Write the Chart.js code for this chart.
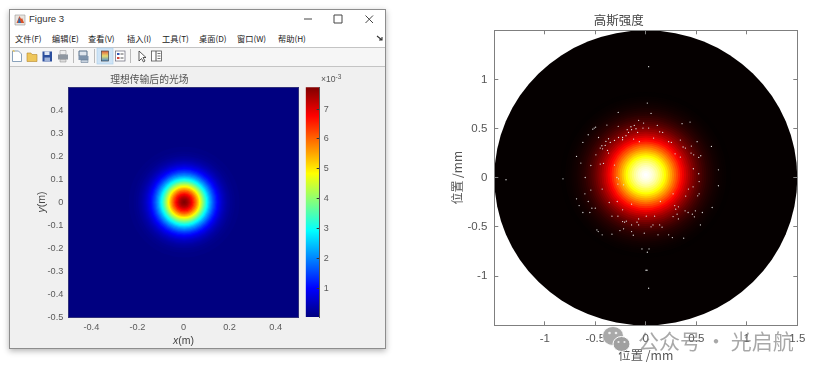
<!DOCTYPE html>
<html>
<head>
<meta charset="utf-8">
<title>Figure 3</title>
<script src="https://cdn.jsdelivr.net/npm/chart.js@4/dist/chart.umd.js"></script>
<style>
html, body { margin: 0; padding: 0; background: #fff; }
#page { position: relative; width: 822px; height: 375px; overflow: hidden; filter: blur(0.6px);
  font-family: "Liberation Sans", "Noto Sans CJK SC", sans-serif; }
canvas { position: absolute; top: 0; }
#win { position: absolute; left: 9px; top: 9px; width: 375px; height: 338px; background: #f0f0f0;
  border: 1px solid #8d8d8d; box-shadow: 0 2px 6px rgba(0,0,0,.3); }
#head { position: absolute; left: 0; top: 0; width: 100%; height: 37px; background: #fff; }
#tools { position: absolute; left: 0; top: 37px; width: 100%; height: 18px; background: #f6f6f6;
  border-top: 1px solid #c4c4c4; border-bottom: 1px solid #c4c4c4; }
.t { position: absolute; white-space: nowrap; color: #333; }
.menu { top: 32px; font: 8.2px "Noto Sans CJK SC", sans-serif; color: #222; }
#icons { position: absolute; left: 0; top: 0; }
#watermark { position: absolute; left: 638px; top: 325px; font: 21px "Noto Sans CJK SC", sans-serif;
  color: rgba(115,115,115,.62); word-spacing: -0.3px; white-space: pre; }
</style>
</head>
<body>
<div id="page">
  <div id="win"><div id="head"></div><div id="tools"></div></div>
  <span class="t" style="left:29px;top:13px;font-size:9.6px">Figure 3</span>
  <span class="t menu" style="left:15px">文件(F)</span>
  <span class="t menu" style="left:52px">编辑(E)</span>
  <span class="t menu" style="left:88px">查看(V)</span>
  <span class="t menu" style="left:127px">插入(I)</span>
  <span class="t menu" style="left:162px">工具(T)</span>
  <span class="t menu" style="left:199px">桌面(D)</span>
  <span class="t menu" style="left:237px">窗口(W)</span>
  <span class="t menu" style="left:278px">帮助(H)</span>
  <svg id="icons" width="400" height="70">
    <path d="M15 15h10v10h-10z" fill="#e9e4de" stroke="#999" stroke-width=".6"/>
    <path d="M16.5 23l3-7 1.6 3 1 -1 2 5z" fill="#d8522a"/><path d="M19 17l2 6h-3z" fill="#2a6fb5"/>
    <path d="M304 19h8M334 15h8v8h-8zM365.500 15.500l7.500 7.500M373 15.500l-7.500 7.500" fill="none" stroke="#444" stroke-width="1"/>
    <path d="M377 36l5 4M382 37v3h-3" fill="none" stroke="#333" stroke-width="1.100"/>
    <path d="M12.500 51h6l3 3v7.500h-9z" fill="#fff" stroke="#6d8cab" stroke-width=".8"/><path d="M12 51l2 -1 1 2z" fill="#f0c040"/>
    <path d="M27 53h4l1 1.500h5v7h-10z" fill="#eec65a" stroke="#b5862c" stroke-width=".6"/>
    <path d="M42.500 51.500h9.500v10h-9.500z" fill="#2c4f9e"/><path d="M44.500 51.500h5v3.500h-5z" fill="#dfe6f3"/><path d="M44.500 57.500h5.500v4h-5.500z" fill="#9fb2d8"/>
    <path d="M60 50.500h6v4h-6z" fill="#eee" stroke="#888" stroke-width=".5"/><path d="M58 54.500h10v5h-10z" fill="#8f97a0"/><path d="M60 59.500h6v2.500h-6z" fill="#ddd" stroke="#888" stroke-width=".5"/>
    <path d="M73.500 49v14M94.500 49v14M130.500 49v14" stroke="#bbb"/>
    <path d="M79 51h8v5h-8z" fill="#dfe6ee" stroke="#58708a"/><path d="M78.500 56h10v4h-10z" fill="#7d93ac"/><path d="M81 60h7v2.500h-7z" fill="#c9d3df" stroke="#58708a" stroke-width=".5"/>
    <rect x="97" y="48" width="16" height="16" fill="#cfe4f6" stroke="#a9cde9" stroke-width=".6"/>
    <defs><linearGradient id="cb" x1="0" y1="0" x2="0" y2="1"><stop offset="0" stop-color="#e2603e"/><stop offset=".5" stop-color="#e6dc70"/><stop offset="1" stop-color="#4a8ed0"/></linearGradient></defs>
    <rect x="101.500" y="51" width="7" height="10" fill="url(#cb)" stroke="#444" stroke-width=".7"/>
    <rect x="115.500" y="51" width="9.500" height="10" fill="#fff" stroke="#667" stroke-width=".7"/>
    <path d="M117 53h2.500v2h-2.500z" fill="#3357b5"/><path d="M117 57h2.500v2h-2.500z" fill="#d0453b"/><path d="M120.500 54h3M120.500 58h3" stroke="#555"/>
    <path d="M139 51v10l2.500 -2.500 2 3.500 1.500 -1 -2 -3.500h3z" fill="#fff" stroke="#333" stroke-width=".8"/>
    <rect x="151.500" y="51" width="10" height="10" fill="#fff" stroke="#555" stroke-width=".8"/><path d="M156 51v10" stroke="#555"/><path d="M157.500 53.500h3M157.500 56h3M157.500 58.500h3" stroke="#777"/>
  </svg>
  <span class="t" style="left:321px;top:74px;font-size:8.6px;color:#555">×10<sup style="font-size:6.5px;line-height:0;vertical-align:3px">-3</sup></span>
  <span class="t" style="left:183.500px;top:334px;transform:translateX(-50%);font-size:10.500px;color:#444"><i>x</i>(m)</span>
  <span class="t" style="left:41px;top:202px;transform:translate(-50%,-50%) rotate(-90deg);font-size:10.500px;color:#444"><i>y</i>(m)</span>

  <canvas id="fieldChart" width="400" height="375" style="left:0;width:400px;height:375px"></canvas>
  <canvas id="colorbarChart" width="100" height="375" style="left:300px;width:100px;height:375px"></canvas>
  <canvas id="hotChart" width="382" height="375" style="left:440px;width:382px;height:375px"></canvas>

  <svg style="position:absolute;left:600px;top:324px" width="36" height="32">
    <ellipse cx="13" cy="12" rx="10.500" ry="9.500" fill="#a9a9a9" stroke="#fff" stroke-width=".8"/>
    <ellipse cx="21.500" cy="20" rx="8.500" ry="7.500" fill="#a0a0a0" stroke="#fff" stroke-width="1"/>
    <circle cx="9.500" cy="9" r="1.300" fill="#eee"/><circle cx="16" cy="9" r="1.300" fill="#eee"/>
    <circle cx="18.500" cy="18" r="1.100" fill="#eee"/><circle cx="24.500" cy="18" r="1.100" fill="#eee"/>
  </svg>
  <div id="watermark">公众号 · 光启航</div>
</div>

<script>
// left panel: radial profile of the field (x1e-3)
const fieldCenter = [0.003, 0];
const fieldRadius = [0.72, 0.24, 0.22, 0.21, 0.2, 0.195, 0.19, 0.185, 0.18, 0.175, 0.17, 0.165, 0.16, 0.155, 0.15, 0.145, 0.14, 0.135, 0.13, 0.125, 0.12, 0.115, 0.11, 0.105, 0.1, 0.095, 0.09, 0.085, 0.08, 0.075, 0.07, 0.065, 0.06, 0.055, 0.05, 0.045, 0.04, 0.035, 0.03, 0.025, 0.02, 0.015, 0.01, 0.005];
const fieldValue = [0, 0.04, 0.08, 0.12, 0.18, 0.21, 0.25, 0.3, 0.36, 0.43, 0.5, 0.59, 0.69, 0.8, 0.92, 1.06, 1.21, 1.38, 1.56, 1.76, 1.98, 2.21, 2.45, 2.72, 2.99, 3.28, 3.58, 3.89, 4.21, 4.53, 4.85, 5.17, 5.48, 5.79, 6.08, 6.36, 6.62, 6.86, 7.07, 7.26, 7.41, 7.54, 7.63, 7.7];
const fieldXTicks = [-0.4, -0.2, 0, 0.2, 0.4];
const fieldYTicks = [-0.5, -0.4, -0.3, -0.2, -0.1, 0, 0.1, 0.2, 0.3, 0.4];
const colorbarTicks = [1, 2, 3, 4, 5, 6, 7];
const colorbarRange = [0.04, 7.73];

// right panel: radial profile of the beam and the white specks
const beamCenter = [0, 0.03];
const discRadius = [1.5];
const beamRadius = [0.84, 0.8, 0.78, 0.76, 0.74, 0.72, 0.7, 0.68, 0.66, 0.64, 0.62, 0.6, 0.58, 0.56, 0.54, 0.52, 0.5, 0.48, 0.46, 0.44, 0.42, 0.4, 0.38, 0.36, 0.34, 0.32, 0.3, 0.28, 0.26, 0.24, 0.22, 0.2, 0.18, 0.16, 0.14, 0.12, 0.1, 0.08, 0.06, 0.04, 0.02];
const beamValue = [0.006, 0.01, 0.012, 0.015, 0.019, 0.023, 0.028, 0.035, 0.042, 0.051, 0.061, 0.073, 0.087, 0.103, 0.12, 0.14, 0.163, 0.188, 0.215, 0.245, 0.278, 0.313, 0.351, 0.39, 0.432, 0.476, 0.52, 0.566, 0.612, 0.658, 0.704, 0.748, 0.79, 0.83, 0.867, 0.901, 0.93, 0.954, 0.974, 0.988, 1];
const speckX = [0.015, -0.273, 0.052, -0.071, -0.022, -0.385, -0.273, -0.511, -0.525, -0.497, -0.114, -0.147, -0.184, -0.141, -0.097, -0.028, 0.028, 0.114, -0.081, -0.171, 0.137, -0.196, -0.468, -0.57, -0.369, -0.395, -0.352, -0.27, -0.23, -0.23, -0.121, -0.064, 0.077, -0.31, -0.623, -0.435, -0.402, -0.451, -0.428, -0.379, -0.369, -0.494, -0.686, -0.643, -0.544, -0.451, -0.419, -0.31,
  0.167, 0.359, 0.438, 0.226, 0.253, 0.342, 0.369, 0.392, 0.451, 0.508, 0.65, 0.29, 0.342, 0.448, 0.474, 0.544, 0.524, 0.471, 0.719, 0.524,
  -0.6, -0.286, -0.27, -0.276, -0.22, -0.544, -0.432, -0.603, -0.686, -0.57, -0.362, -0.283, -0.141, -0.66, -0.534, -0.5, -0.23, -0.623, -0.554, -0.335, -0.276, 0.005, 0.087, -0.071, -0.23, -0.21, -0.193, -0.087, -0.071, -0.141, 0.071, 0.052, 0.137, -0.22, -0.256, -0.141, -0.484, -0.471, -0.432, -0.335, -0.124, -0.015, 0.121, -0.038, 0.032, 0.015,
  0.528, 0.468, 0.422, 0.719, 0.528, 0.514, 0.395, 0.27, 0.144, 0.286, 0.323, 0.296, 0.389, 0.491, 0.657, 0.56, 0.419, 0.461, 0.27, 0.31, 0.481, 0.323, 0.541, 0.161, 0.263, 0.226, 0.375,
  0.028, -1.384, -0.82, 0.028, 0.012, 0.002];
const speckY = [0.76, 0.665, 0.655, 0.584, 0.557, 0.536, 0.523, 0.506, 0.495, 0.515, 0.533, 0.519, 0.489, 0.489, 0.499, 0.506, 0.506, 0.533, 0.461, 0.461, 0.468, 0.428, 0.41, 0.438, 0.397, 0.37, 0.36, 0.41, 0.41, 0.387, 0.394, 0.367, 0.404, 0.38, 0.36, 0.326, 0.329, 0.302, 0.295, 0.278, 0.251, 0.234, 0.217, 0.15, 0.125, 0.14, 0.146, 0.129,
  0.461, 0.55, 0.567, 0.367, 0.36, 0.384, 0.313, 0.302, 0.323, 0.367, 0.319, 0.244, 0.211, 0.251, 0.234, 0.224, 0.207, 0.092, 0.081, 0.041,
  0.003, 0.003, -0.01, -0.064, -0.071, -0.125, -0.115, -0.163, -0.214, -0.241, -0.251, -0.241, -0.268, -0.282, -0.309, -0.309, -0.326, -0.353, -0.353, -0.39, -0.39, -0.39, -0.39, -0.418, -0.445, -0.451, -0.441, -0.451, -0.479, -0.479, -0.479, -0.499, -0.479, -0.519, -0.537, -0.547, -0.53, -0.547, -0.58, -0.573, -0.584, -0.563, -0.58, -0.723, -0.723, -0.757,
  -0.038, -0.092, -0.115, -0.081, -0.163, -0.183, -0.186, -0.163, -0.241, -0.282, -0.295, -0.319, -0.336, -0.336, -0.302, -0.353, -0.353, -0.37, -0.394, -0.37, -0.397, -0.418, -0.479, -0.502, -0.608, -0.58, -0.614,
  1.13, -0.02, -0.01, -1.123, -0.94, -0.94];
const beamXTicks = [-1, -0.5, 0, 0.5, 1, 1.5];
const beamYTicks = [-1, -0.5, 0, 0.5, 1];

function clamp01(v) { return Math.max(0, Math.min(1, v)); }

function jet(t) {
    const r = clamp01(Math.min(4 * t - 1.5, -4 * t + 4.5));
    const g = clamp01(Math.min(4 * t - 0.5, -4 * t + 3.5));
    const b = clamp01(Math.min(4 * t + 0.5, -4 * t + 2.5));
    return `rgb(${Math.round(r * 255)},${Math.round(g * 255)},${Math.round(b * 255)})`;
}

function hot(t) {
    const r = clamp01(t / 0.375);
    const g = clamp01((t - 0.375) / 0.375);
    const b = clamp01((t - 0.75) / 0.25);
    return `rgb(${Math.round(r * 255)},${Math.round(g * 255)},${Math.round(b * 255)})`;
}

// one flat dataset of filled circles, radius measured on the x scale
function ringDataset(center, radii, colors, extra) {
    return Object.assign({
        data: radii.map(() => ({ x: center[0], y: center[1] })),
        pointRadius: ctx => {
            const s = ctx.chart.scales.x;
            return s.getPixelForValue(radii[ctx.dataIndex]) - s.getPixelForValue(0);
        },
        pointBackgroundColor: ctx => colors[ctx.dataIndex],
        pointBorderWidth: 0
    }, extra);
}

function axis(position, min, max, tickValues, opts) {
    return {
        type: 'linear',
        position: position,
        min: min,
        max: max,
        afterBuildTicks: s => { s.ticks = tickValues.map(v => ({ value: v })); },
        afterFit: s => {
            if (s.isHorizontal()) s.height = opts.size; else s.width = opts.size;
        },
        border: { display: true, color: opts.frame, width: 1, z: 2 },
        grid: {
            drawOnChartArea: false,
            drawTicks: opts.tickLength !== 0,
            tickLength: opts.tickLength,
            tickColor: opts.tickColor,
            z: 1
        },
        ticks: {
            display: !!opts.font,
            autoSkip: false,
            maxRotation: 0,
            font: opts.font,
            color: opts.color,
            padding: opts.padding,
            callback: v => String(v)
        },
        title: opts.title || { display: false }
    };
}

// the right axes box is a little wider than tall, so the rings get squeezed to an oval
const ovalRings = {
    id: 'ovalRings',
    beforeDatasetDraw(chart, args) {
        if (!chart.data.datasets[args.index].oval) return;
        const sx = chart.scales.x, sy = chart.scales.y;
        const ky = (sy.getPixelForValue(0) - sy.getPixelForValue(1)) / (sx.getPixelForValue(1) - sx.getPixelForValue(0));
        const p = args.meta.data[0];
        const c = chart.ctx;
        c.save();
        c.translate(p.x, p.y);
        c.scale(1, ky);
        c.translate(-p.x, -p.y);
    },
    afterDatasetDraw(chart, args) {
        if (chart.data.datasets[args.index].oval) chart.ctx.restore();
    }
};

const sans = 'Liberation Sans';
const cjk = 'Noto Sans CJK SC';

// left heat map
const fieldLabels = { font: { family: sans, size: 9.2 }, color: '#5a5a5a' };
new Chart(document.getElementById('fieldChart'), {
    type: 'scatter',
    data: { datasets: [ringDataset(fieldCenter, fieldRadius, fieldValue.map(v => jet(v / 7.73)))] },
    options: {
        animation: false,
        responsive: false,
        events: [],
        layout: { padding: { right: 101.3 } },
        plugins: {
            legend: { display: false },
            tooltip: { enabled: false },
            title: {
                display: true,
                text: '理想传输后的光场',
                color: '#555',
                font: { family: cjk, size: 9.8, weight: 'normal', lineHeight: 1.2 },
                padding: { top: 73, bottom: 2.5 }
            }
        },
        scales: {
            x: axis('bottom', -0.5, 0.5, fieldXTicks, Object.assign({ size: 58, frame: '#30307a', tickLength: 0, padding: 5 }, fieldLabels)),
            y: axis('left', -0.5, 0.5, fieldYTicks, Object.assign({ size: 68.3, frame: '#30307a', tickLength: 0, padding: 5 }, fieldLabels)),
            x2: axis('top', -0.5, 0.5, [], { size: 0, frame: '#30307a', tickLength: 0 }),
            y2: axis('right', -0.5, 0.5, [], { size: 0, frame: '#30307a', tickLength: 0 })
        }
    }
});

// colorbar: a single floating bar painted with the colormap
new Chart(document.getElementById('colorbarChart'), {
    type: 'bar',
    data: {
        labels: [''],
        datasets: [{
            data: [colorbarRange],
            barPercentage: 1,
            categoryPercentage: 1,
            backgroundColor: ctx => {
                const area = ctx.chart.chartArea;
                if (!area) return '#000080';
                const g = ctx.chart.ctx.createLinearGradient(0, area.bottom, 0, area.top);
                for (let i = 0; i <= 32; i++) g.addColorStop(i / 32, jet(i / 32));
                return g;
            }
        }]
    },
    options: {
        animation: false,
        responsive: false,
        events: [],
        layout: { padding: { left: 5.7, top: 87.3, bottom: 58 } },
        plugins: { legend: { display: false }, tooltip: { enabled: false } },
        scales: {
            x: { display: false },
            y: axis('right', colorbarRange[0], colorbarRange[1], colorbarTicks, {
                size: 80.3, frame: '#555', tickLength: -3, tickColor: '#333', padding: 7,
                font: { family: sans, size: 9 }, color: '#5a5a5a'
            })
        }
    }
});

// right heat map
const beamTick = { frame: '#7f7f7f', tickLength: -4, tickColor: '#7f7f7f' };
const beamFont = { font: { family: sans, size: 11.5 }, color: '#555', padding: 11 };
new Chart(document.getElementById('hotChart'), {
    type: 'scatter',
    plugins: [ovalRings],
    data: {
        datasets: [
            { data: speckX.map((x, i) => ({ x: x, y: speckY[i] })), pointRadius: 0.65, pointBackgroundColor: '#dedede', pointBorderWidth: 0 },
            ringDataset(beamCenter, beamRadius, beamValue.map(hot), { oval: true, clip: false }),
            ringDataset([0, 0], discRadius, ['#050000'], { oval: true, clip: false })
        ]
    },
    options: {
        animation: false,
        responsive: false,
        events: [],
        layout: { padding: { right: 24.7 } },
        plugins: {
            legend: { display: false },
            tooltip: { enabled: false },
            title: {
                display: true,
                text: '高斯强度',
                color: '#444',
                font: { family: cjk, size: 12.5, weight: 'normal', lineHeight: 1.2 },
                padding: { top: 13, bottom: 2.3 }
            }
        },
        scales: {
            x: axis('bottom', -1.5, 1.5, beamXTicks, Object.assign({ size: 49.7 }, beamTick, beamFont, {
                title: { display: true, text: '位置 /mm', color: '#555', font: { family: cjk, size: 12.3 }, padding: { bottom: 12, top: 0 } }
            })),
            y: axis('left', -1.5, 1.5, beamYTicks, Object.assign({ size: 54.3 }, beamTick, beamFont, {
                title: { display: true, text: '位置 /mm', color: '#555', font: { family: cjk, size: 12 }, padding: { top: 10, bottom: 0 } }
            })),
            x2: axis('top', -1.5, 1.5, beamXTicks, Object.assign({ size: 0 }, beamTick)),
            y2: axis('right', -1.5, 1.5, beamYTicks, Object.assign({ size: 0 }, beamTick))
        }
    }
});
</script>
</body>
</html>
